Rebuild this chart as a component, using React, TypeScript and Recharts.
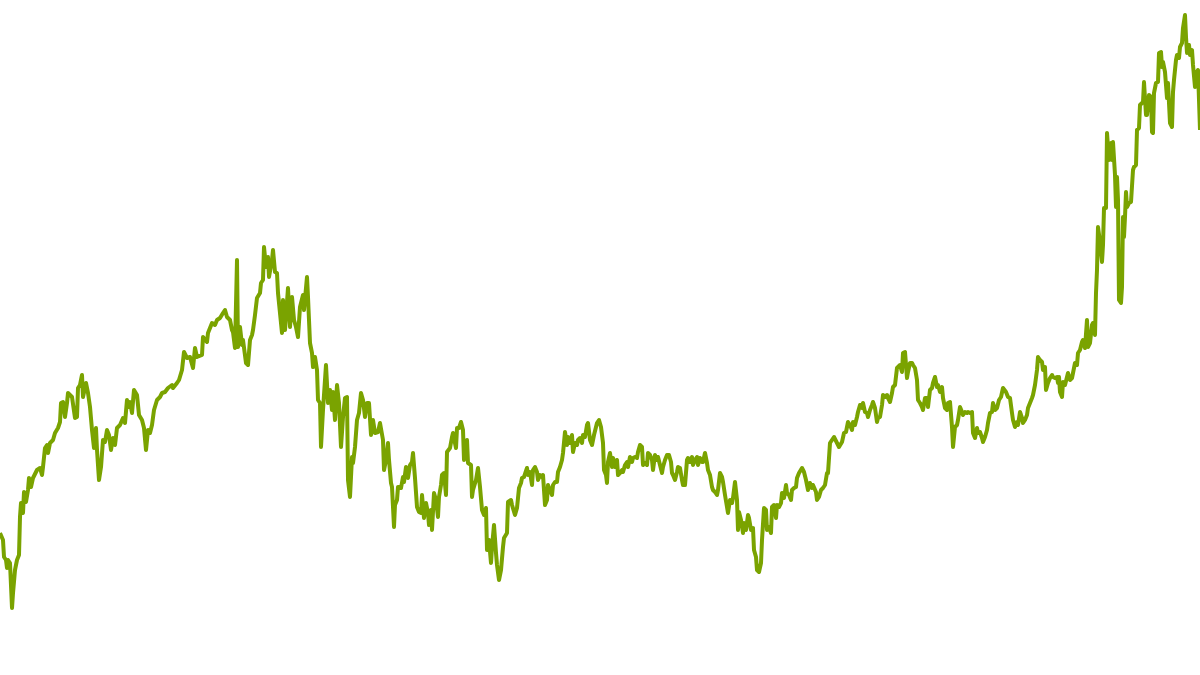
import { LineChart, Line, XAxis, YAxis } from 'recharts';

// trading day position along the period
const days = [
  0, 3, 4, 6, 7, 8, 10, 12, 13, 15, 17, 19, 20, 21, 23, 24, 26, 28, 29, 31, 33, 37, 40, 42, 43, 45, 47, 48, 50, 53,
  55, 58, 60, 61, 63, 65, 67, 68, 72, 75, 77, 78, 80, 82, 83, 86, 88, 90, 92, 94, 96, 97, 99, 101, 103, 105, 107, 109, 111, 113,
  115, 117, 120, 123, 125, 127, 128, 130, 132, 134, 137, 139, 142, 144, 146, 148, 150, 152, 154, 157, 160, 162, 165, 168, 172, 173, 177, 179, 182, 184,
  187, 190, 193, 195, 197, 202, 203, 207, 208, 212, 215, 217, 220, 223, 225, 227, 230, 232, 233, 235, 237, 238, 240, 242, 243, 246, 248, 250, 252, 253,
  255, 257, 260, 261, 263, 264, 266, 268, 269, 272, 273, 275, 277, 278, 280, 282, 283, 285, 287, 288, 290, 292, 294, 296, 298, 300, 303, 304, 307, 308,
  310, 312, 313, 315, 317, 318, 320, 321, 323, 326, 328, 330, 332, 333, 335, 337, 339, 341, 343, 345, 347, 348, 350, 352, 353, 355, 357, 359, 361, 363,
  365, 367, 369, 371, 373, 375, 378, 380, 383, 384, 386, 388, 389, 391, 392, 394, 395, 397, 398, 401, 403, 404, 406, 408, 410, 412, 413, 415, 417, 419,
  421, 422, 424, 426, 428, 429, 431, 432, 434, 436, 438, 439, 441, 442, 444, 446, 447, 450, 452, 453, 456, 457, 459, 461, 463, 464, 467, 468, 471, 472,
  473, 476, 478, 480, 482, 484, 486, 487, 489, 491, 492, 494, 496, 497, 499, 501, 503, 504, 507, 508, 511, 512, 515, 517, 519, 521, 522, 524, 527, 528,
  530, 532, 533, 535, 537, 538, 540, 542, 543, 545, 547, 548, 550, 552, 553, 555, 557, 558, 560, 562, 563, 565, 567, 568, 570, 572, 573, 575, 577, 578,
  580, 582, 583, 585, 587, 588, 590, 592, 594, 597, 599, 601, 603, 604, 606, 607, 608, 610, 612, 613, 615, 617, 618, 620, 622, 623, 625, 627, 628, 630,
  632, 633, 635, 637, 638, 640, 642, 643, 645, 647, 648, 650, 652, 653, 655, 657, 658, 660, 662, 663, 665, 667, 669, 671, 672, 673, 675, 677, 678, 680,
  682, 683, 685, 687, 688, 690, 692, 693, 695, 697, 698, 700, 702, 703, 705, 707, 708, 710, 712, 713, 715, 717, 718, 720, 722, 723, 725, 727, 728, 730,
  732, 733, 735, 737, 738, 739, 741, 743, 744, 746, 748, 749, 751, 753, 754, 756, 757, 759, 761, 762, 764, 766, 767, 769, 771, 772, 774, 776, 777, 779,
  781, 782, 784, 786, 787, 789, 791, 792, 794, 796, 797, 799, 802, 804, 806, 808, 810, 812, 813, 816, 817, 819, 821, 823, 825, 827, 828, 830, 832, 834,
  837, 839, 842, 844, 846, 848, 850, 852, 853, 855, 857, 858, 860, 862, 863, 865, 867, 868, 870, 872, 873, 875, 877, 878, 880, 882, 883, 885, 887, 888,
  890, 892, 893, 895, 897, 898, 900, 902, 903, 905, 907, 908, 910, 912, 913, 915, 917, 918, 920, 922, 923, 925, 927, 928, 930, 932, 933, 935, 937, 938,
  940, 942, 943, 945, 947, 948, 950, 952, 953, 955, 957, 958, 960, 962, 963, 965, 967, 968, 970, 972, 973, 975, 977, 978, 980, 982, 983, 985, 987, 988,
  990, 992, 993, 995, 997, 999, 1001, 1003, 1006, 1008, 1010, 1012, 1013, 1015, 1017, 1018, 1020, 1022, 1023, 1025, 1027, 1028, 1030, 1032, 1033, 1035, 1037, 1038, 1040, 1042,
  1043, 1045, 1046, 1048, 1050, 1052, 1053, 1055, 1057, 1058, 1059, 1060, 1062, 1063, 1065, 1067, 1068, 1070, 1072, 1073, 1075, 1077, 1078, 1080, 1082, 1083, 1085, 1087, 1088, 1090,
  1092, 1093, 1095, 1096, 1097, 1098, 1100, 1102, 1103, 1104, 1106, 1107, 1108, 1109, 1111, 1112, 1113, 1115, 1116, 1117, 1118, 1119, 1121, 1122, 1123, 1124, 1125, 1126, 1127, 1129,
  1131, 1133, 1134, 1136, 1137, 1139, 1140, 1142, 1143, 1144, 1146, 1147, 1149, 1151, 1152, 1153, 1154, 1156, 1158, 1159, 1161, 1162, 1163, 1165, 1167, 1168, 1170, 1172, 1173, 1174,
  1176, 1177, 1179, 1180, 1182, 1183, 1185, 1186, 1187, 1189, 1190, 1192, 1193, 1195, 1197, 1198, 1200,
];

// index level, one value per day above
const levels = [
  467, 460, 443, 440, 432, 440, 437, 392, 407, 430, 440, 445, 483, 497, 487, 508, 498, 510, 522, 513, 522, 530, 532, 525, 533, 552, 555, 547, 557, 560,
  567, 572, 578, 597, 598, 583, 597, 607, 603, 582, 583, 612, 615, 625, 603, 617, 607, 593, 570, 552, 572, 550, 520, 533, 560, 558, 570, 565, 550, 562,
  555, 572, 575, 582, 577, 600, 593, 598, 587, 610, 605, 585, 580, 572, 550, 570, 567, 575, 590, 600, 603, 607, 608, 612, 615, 612, 617, 620, 630, 648,
  642, 643, 632, 652, 643, 645, 663, 658, 667, 677, 675, 680, 682, 687, 690, 683, 680, 670, 668, 652, 740, 653, 673, 655, 660, 637, 635, 660, 665, 670,
  685, 702, 707, 717, 720, 753, 733, 743, 723, 740, 750, 728, 727, 707, 687, 667, 700, 670, 698, 712, 673, 703, 680, 673, 663, 693, 705, 690, 723, 703,
  657, 647, 633, 643, 630, 600, 597, 553, 590, 635, 597, 610, 590, 608, 580, 615, 597, 553, 583, 602, 603, 520, 503, 543, 537, 553, 580, 587, 607, 600,
  583, 597, 597, 565, 580, 567, 568, 577, 560, 530, 540, 557, 540, 517, 513, 473, 495, 500, 513, 512, 523, 518, 533, 522, 535, 538, 547, 522, 493, 488,
  487, 505, 482, 497, 487, 475, 490, 470, 507, 500, 483, 503, 515, 525, 527, 505, 548, 552, 563, 567, 552, 572, 572, 578, 570, 540, 560, 537, 535, 503,
  510, 520, 532, 513, 490, 485, 492, 450, 460, 437, 453, 475, 447, 435, 420, 430, 453, 462, 467, 498, 500, 495, 485, 492, 512, 517, 522, 523, 532, 525,
  528, 515, 530, 533, 528, 520, 525, 523, 525, 495, 500, 515, 510, 505, 515, 518, 518, 528, 533, 540, 547, 568, 555, 563, 557, 565, 548, 557, 555, 560,
  562, 557, 565, 563, 575, 577, 560, 555, 565, 577, 580, 573, 557, 530, 525, 517, 538, 547, 533, 542, 533, 540, 525, 527, 530, 528, 535, 538, 533, 543,
  538, 542, 543, 542, 548, 555, 553, 535, 537, 535, 547, 545, 540, 530, 545, 540, 543, 535, 527, 533, 540, 545, 545, 538, 527, 525, 520, 528, 533, 532,
  520, 515, 515, 540, 542, 538, 543, 535, 540, 543, 535, 542, 538, 538, 547, 537, 530, 525, 513, 510, 508, 505, 510, 527, 523, 518, 505, 493, 487, 500,
  497, 502, 518, 500, 470, 488, 480, 467, 477, 470, 485, 482, 470, 472, 450, 443, 430, 428, 437, 460, 492, 490, 470, 473, 467, 493, 495, 482, 495, 493,
  497, 507, 502, 515, 507, 505, 500, 510, 512, 513, 522, 527, 532, 528, 520, 510, 517, 512, 515, 508, 500, 503, 510, 512, 515, 527, 527, 557, 560, 563,
  557, 553, 558, 567, 568, 578, 575, 570, 578, 575, 583, 588, 595, 592, 597, 588, 587, 583, 590, 595, 598, 592, 578, 582, 583, 595, 605, 603, 605, 602,
  598, 607, 613, 615, 632, 633, 635, 628, 647, 648, 622, 628, 637, 637, 635, 632, 620, 600, 597, 593, 590, 602, 602, 593, 610, 612, 617, 623, 613, 615,
  608, 613, 602, 592, 590, 597, 598, 573, 553, 573, 575, 580, 593, 588, 585, 588, 587, 588, 587, 588, 567, 562, 572, 567, 568, 562, 558, 563, 570, 577,
  587, 588, 597, 590, 592, 600, 603, 612, 608, 603, 602, 587, 580, 573, 578, 575, 588, 582, 577, 580, 585, 592, 597, 602, 605, 615, 630, 643, 640, 638,
  630, 633, 610, 617, 622, 625, 623, 622, 623, 617, 623, 608, 603, 618, 615, 623, 627, 620, 622, 627, 637, 635, 647, 650, 658, 660, 652, 680, 653, 657,
  675, 677, 665, 707, 730, 773, 758, 738, 755, 792, 792, 867, 853, 840, 857, 840, 858, 825, 793, 823, 800, 700, 697, 713, 783, 763, 783, 808, 793, 797,
  798, 830, 833, 835, 870, 872, 895, 897, 898, 918, 885, 885, 905, 903, 868, 867, 907, 917, 918, 947, 948, 933, 938, 928, 902, 917, 877, 873, 908, 920,
  940, 945, 942, 953, 957, 972, 985, 963, 947, 955, 945, 950, 935, 913, 928, 930, 870,
];

const data = days.map((day, i) => ({ day, level: levels[i] }));

export default function App() {
  return (
    <div style={{ position: 'absolute', left: 0, top: 0, width: 1200, height: 675, background: '#ffffff' }}>
      <LineChart width={1200} height={675} data={data} margin={{ top: 0, right: 0, bottom: 0, left: 0 }}>
        <XAxis dataKey="day" type="number" domain={[0, 1200]} hide />
        <YAxis type="number" domain={[325, 1000]} hide />
        <Line
          type="linear"
          dataKey="level"
          stroke="#7aa300"
          strokeWidth={4}
          strokeLinejoin="round"
          dot={false}
          activeDot={false}
          isAnimationActive={false}
        />
      </LineChart>
    </div>
  );
}
